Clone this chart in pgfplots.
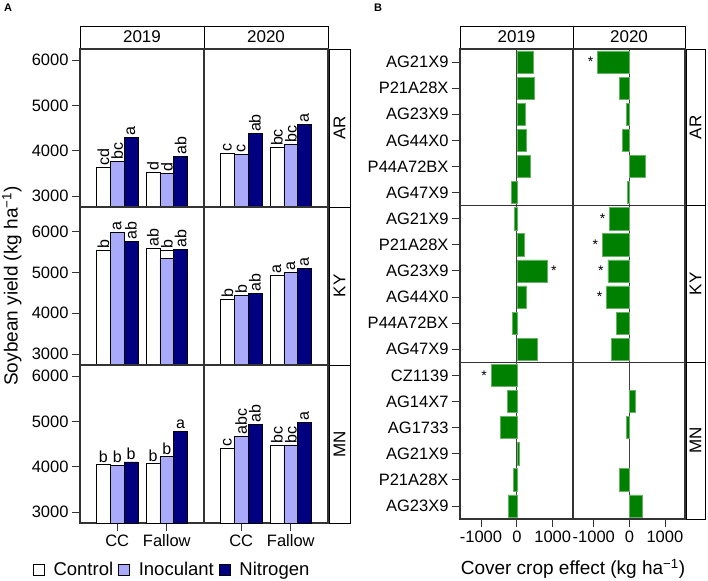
\documentclass[border=0pt]{standalone}
\usepackage{fontspec}
\setmainfont{Liberation Sans}
\usepackage{pgfplots}
\pgfplotsset{compat=1.18}
\definecolor{inoc}{RGB}{170,170,250}
\definecolor{nitro}{RGB}{0,0,128}
\definecolor{ccgreen}{RGB}{0,128,0}
\newcommand\fs[1]{\fontsize{#1}{#1}\selectfont}

\pgfplotsset{
  base/.style={scale only axis, axis line style={black!80, line width=1.2pt},
    tick style={black!80, line width=0.8pt}, tick align=outside, major tick length=8pt,
    tick label style={font=\fs{16.5}}, /pgf/number format/assume math mode=true},
  % panel A
  Acell/.style={base, width=124pt, height=158pt, ybar, bar width=0.278,
    xmin=0.25, xmax=2.75, ymin=2757, ymax=6245, xtick=\empty, ytick=\empty,
    point meta=explicit symbolic, nodes near coords},
  Arot/.style={nodes near coords style={font=\fs{16}, rotate=90, anchor=west, inner sep=1.5pt, text=black}},
  Aup/.style={nodes near coords style={font=\fs{16}, anchor=south, inner sep=2pt, text=black}},
  Aleft/.style={ytick={3000,4000,5000,6000}, yticklabels={3000,4000,5000,6000}, ytick pos=left},
  Abottom/.style={xtick={1,2}, xticklabels={CC,Fallow}, xtick pos=bottom},
  ctl/.style={fill=white, draw=black, line width=0.6pt, bar shift=-0.278},
  ino/.style={fill=inoc, draw=black, line width=0.6pt, bar shift=0},
  nit/.style={fill=nitro, draw=black, line width=0.6pt, bar shift=0.278},
  % panel B
  Bcell/.style={base, height=156.7pt, xbar, bar width=0.85, y dir=reverse,
    ymin=0.5, ymax=6.5, xmin=-1585, xmax=1565, xtick=\empty, ytick=\empty,
    extra x ticks={0}, extra x tick labels={},
    extra x tick style={grid=major, major grid style={black!75, line width=1pt}, major tick length=0pt}},
  Bstar/.style={point meta=explicit symbolic, nodes near coords,
    nodes near coords style={font=\fs{14}, inner sep=4pt, anchor=#1, text=black}},
  Bleft/.style={ytick={1,2,3,4,5,6}, ytick pos=left},
  Bbottom/.style={xtick={-1000,0,1000}, xticklabels={-1000,0,1000}, xtick pos=bottom},
  gb/.style={fill=ccgreen, draw=ccgreen!60!white, line width=0.5pt, bar shift=0},
}

\begin{document}
\begin{tikzpicture}[x=1pt,y=1pt]
\useasboundingbox (0,0) rectangle (708,580);

% ---------- panel A ----------
\node[font=\bfseries\fs{11}] at (8,572) {A};
\draw[line width=0.8pt, fill=white] (80,532) rectangle (204,554);
\draw[line width=0.8pt, fill=white] (204,532) rectangle (328,554);
\node[font=\fs{17}] at (142,543) {2019};
\node[font=\fs{17}] at (266,543) {2020};
\foreach \lo/\hi/\t in {373/531/AR, 215/373/KY, 57/215/MN}{
  \draw[line width=0.8pt, fill=white] (329,\lo) rectangle (350,\hi);
  \node[font=\fs{17}, rotate=90] at (339.5,{(\lo+\hi)/2}) {\t};
}

% AR 2019
\begin{axis}[Acell, Arot, Aleft, at={(80pt,373pt)}, anchor=south west]
\addplot[ctl] coordinates {(1,3625)[cd] (2,3529)[d]};
\addplot[ino] coordinates {(1,3757)[bc] (2,3500)[d]};
\addplot[nit] coordinates {(1,4301)[a] (2,3882)[ab]};
\end{axis}
% AR 2020
\begin{axis}[Acell, Arot, at={(204pt,373pt)}, anchor=south west]
\addplot[ctl] coordinates {(1,3949)[c] (2,4066)[bc]};
\addplot[ino] coordinates {(1,3919)[c] (2,4140)[bc]};
\addplot[nit] coordinates {(1,4375)[ab] (2,4588)[a]};
\end{axis}
% KY 2019
\begin{axis}[Acell, Arot, Aleft, ymin=2730, ymax=6607, at={(80pt,215pt)}, anchor=south west,
  ylabel={Soybean yield (kg ha\textsuperscript{−1})},
  every axis y label/.style={at={(axis description cs:-0.55,0.5)}, rotate=90, anchor=center, font=\fs{19}}]
\addplot[ctl] coordinates {(1,5535)[b] (2,5584)[ab]};
\addplot[ctl, bar shift=0] coordinates {(2,5551)[b]};
\addplot[ino] coordinates {(1,5984)[a] (2,5338)[{}]};
\addplot[nit] coordinates {(1,5764)[ab] (2,5576)[ab]};
\end{axis}
% KY 2020
\begin{axis}[Acell, Arot, ymin=2730, ymax=6607, at={(204pt,215pt)}, anchor=south west]
\addplot[ctl] coordinates {(1,4349)[b] (2,4921)[a]};
\addplot[ino] coordinates {(1,4439)[b] (2,4995)[a]};
\addplot[nit] coordinates {(1,4488)[ab] (2,5110)[a]};
\end{axis}
% MN 2019
\begin{axis}[Acell, Aup, Aleft, Abottom, at={(80pt,57pt)}, anchor=south west,
  legend columns=3,
  legend image code/.code={\draw[#1, line width=0.6pt] (0pt,-5.5pt) rectangle (11pt,5.5pt);},
  legend style={at={(axis description cs:-0.381,-0.297)}, anchor=west, draw=none, fill=none,
    font=\fs{18.5}, inner sep=0pt,
    /tikz/every even column/.append style={column sep=3pt},
    /tikz/every odd column/.append style={column sep=7pt}}]
\addplot[ctl] coordinates {(1,4049)[b] (2,4064)[b]};
\addplot[ino] coordinates {(1,4034)[b] (2,4225)[b]};
\addplot[nit] coordinates {(1,4108)[b] (2,4783)[a]};
\legend{Control,Inoculant,Nitrogen}
\end{axis}
% MN 2020
\begin{axis}[Acell, Arot, Abottom, at={(204pt,57pt)}, anchor=south west]
\addplot[ctl] coordinates {(1,4401)[c] (2,4482)[bc]};
\addplot[ino] coordinates {(1,4673)[abc] (2,4482)[bc]};
\addplot[nit] coordinates {(1,4930)[ab] (2,4981)[a]};
\end{axis}

% ---------- panel B ----------
\node[font=\bfseries\fs{11}] at (378,572) {B};
\draw[line width=0.8pt, fill=white] (460,532) rectangle (573,554);
\draw[line width=0.8pt, fill=white] (573,532) rectangle (685,554);
\node[font=\fs{17}] at (516.5,543) {2019};
\node[font=\fs{17}] at (629,543) {2020};
\foreach \lo/\hi/\t in {374.3/531/AR, 217.7/374.3/KY, 61/217.7/MN}{
  \draw[line width=0.8pt, fill=white] (686,\lo) rectangle (705,\hi);
  \node[font=\fs{17}, rotate=90] at (695.5,{(\lo+\hi)/2}) {\t};
}

% AR
\begin{axis}[Bcell, Bleft, width=113pt, at={(460pt,374.3pt)}, anchor=south west,
  yticklabels={AG21X9,P21A28X,AG23X9,AG44X0,P44A72BX,AG47X9}]
\addplot[gb] coordinates {(447,1) (484,2) (242,3) (251,4) (372,5) (-158,6)};
\end{axis}
\begin{axis}[Bcell, Bstar=east, width=112pt, at={(573pt,374.3pt)}, anchor=south west]
\addplot[gb] coordinates {(-893,1)[*] (-288,2)[{}] (-74,3)[{}] (-195,4)[{}] (456,5)[{}] (-65,6)[{}]};
\end{axis}
% KY
\begin{axis}[Bcell, Bleft, Bstar=west, width=113pt, at={(460pt,217.7pt)}, anchor=south west,
  yticklabels={AG21X9,P21A28X,AG23X9,AG44X0,P44A72BX,AG47X9}]
\addplot[gb] coordinates {(-65,1)[{}] (214,2)[{}] (837,3)[*] (270,4)[{}] (-121,5)[{}] (558,6)[{}]};
\end{axis}
\begin{axis}[Bcell, Bstar=east, width=112pt, at={(573pt,217.7pt)}, anchor=south west]
\addplot[gb] coordinates {(-558,1)[*] (-763,2)[*] (-605,3)[*] (-642,4)[*] (-363,5)[{}] (-502,6)[{}]};
\end{axis}
% MN
\begin{axis}[Bcell, Bleft, Bbottom, Bstar=east, width=113pt, at={(460pt,61pt)}, anchor=south west,
  yticklabels={CZ1139,AG14X7,AG1733,AG21X9,P21A28X,AG23X9},
  xlabel={Cover crop effect (kg ha\textsuperscript{−1})},
  every axis x label/.style={at={(axis description cs:1,-0.319)}, anchor=center, font=\fs{19}}]
\addplot[gb] coordinates {(-716,1)[*] (-260,2)[{}] (-465,3)[{}] (74,4)[{}] (-93,5)[{}] (-242,6)[{}]};
\end{axis}
\begin{axis}[Bcell, Bbottom, width=112pt, at={(573pt,61pt)}, anchor=south west]
\addplot[gb] coordinates {(167,2) (-93,3) (-279,5) (372,6)};
\end{axis}
\end{tikzpicture}
\end{document}
